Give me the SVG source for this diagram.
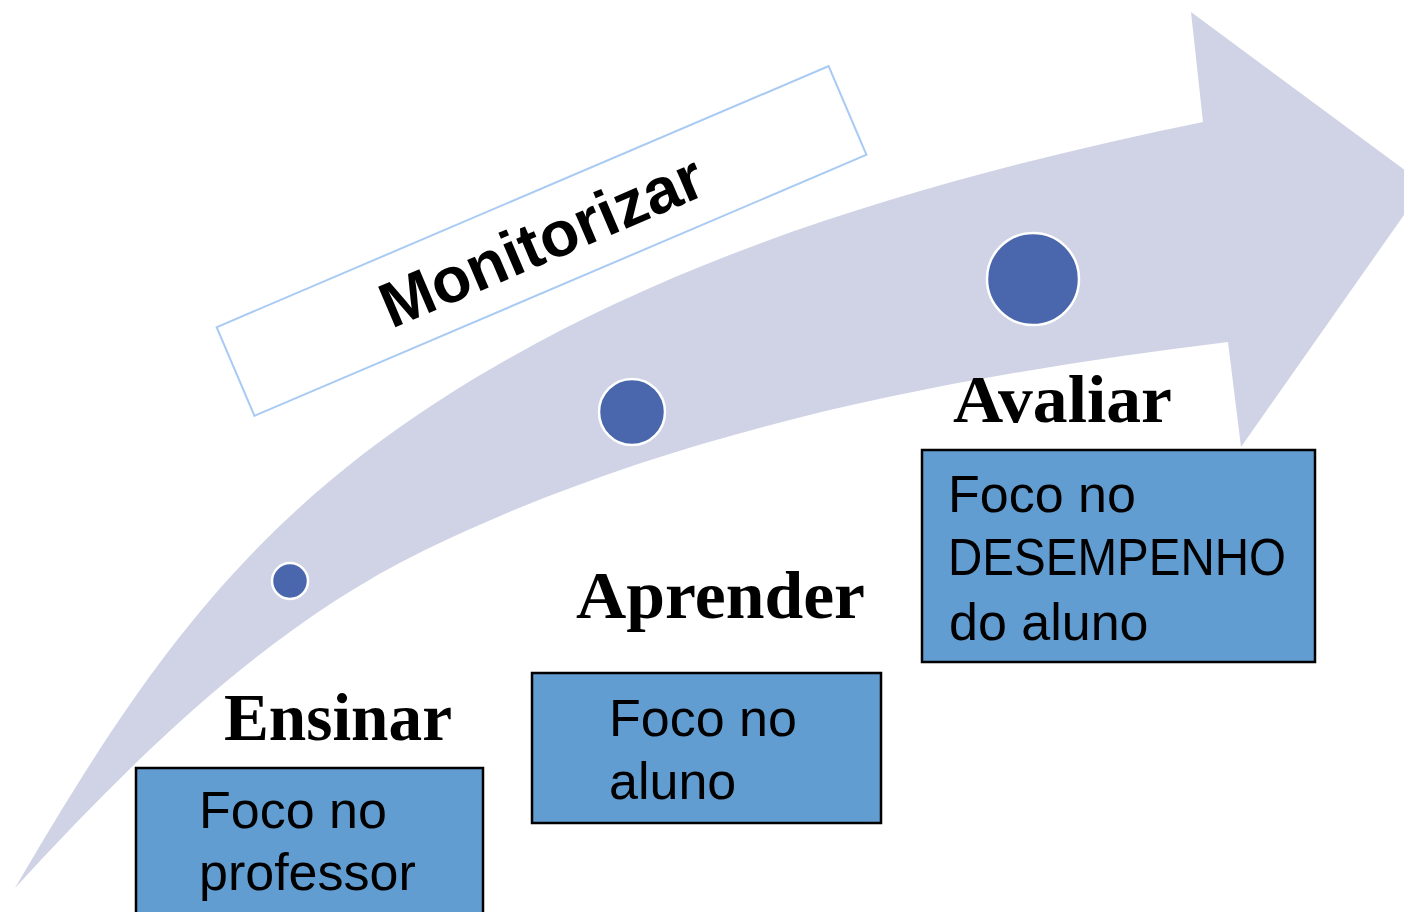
<svg xmlns="http://www.w3.org/2000/svg" width="1404" height="912" viewBox="0 0 1404 912">
<style>
.arrow{fill:#CFD3E5;stroke:none}
.dot{fill:#4A67AD;stroke:#FFFFFF;stroke-width:2.5}
.box{fill:#629DD1;stroke:#000000;stroke-width:2.5}
.lbl{font-family:"Liberation Serif","Times New Roman",serif;font-weight:bold;font-size:68px;fill:#000}
.txt{font-family:"Liberation Sans",Arial,sans-serif;font-size:52px;fill:#000}
.mon{fill:#FFFFFF;stroke:#A9CBF3;stroke-width:2}
.montxt{font-family:"Liberation Sans",Arial,sans-serif;font-weight:bold;font-size:64px;fill:#000}
</style>
<rect x="0" y="0" width="1404" height="912" fill="#FFFFFF"/>
<g id="arrow">
<path class="arrow" d="M15,888 C136,681 238.4,530 440,400 C666.8,253.7 938.7,176.5 1203,122 L1191,12 L1425,185 L1241,447 L1228,342 C954,375.7 673,429.1 425,550 C265.9,627.5 134.8,757.9 15,888 Z"/>
</g>
<g id="monitorizar" transform="translate(541.5,241) rotate(-23.1)">
<rect class="mon" x="-332.6" y="-48.2" width="665.3" height="96.4"/>
<text class="montxt" x="0" y="22" text-anchor="middle">Monitorizar</text>
</g>
<g id="dot1"><circle class="dot" cx="290" cy="581" r="18"/></g>
<g id="dot2"><circle class="dot" cx="632" cy="412" r="33"/></g>
<g id="dot3"><circle class="dot" cx="1033" cy="279" r="46"/></g>
<g id="ensinar">
<text class="lbl" x="224" y="740" textLength="228" lengthAdjust="spacingAndGlyphs">Ensinar</text>
<rect class="box" x="136" y="768" width="347" height="170"/>
<text class="txt" x="199" y="828">Foco no</text>
<text class="txt" x="199" y="890">professor</text>
</g>
<g id="aprender">
<text class="lbl" x="576" y="618" textLength="289" lengthAdjust="spacingAndGlyphs">Aprender</text>
<rect class="box" x="532" y="673" width="349" height="150"/>
<text class="txt" x="609" y="736">Foco no</text>
<text class="txt" x="609" y="799">aluno</text>
</g>
<g id="avaliar">
<text class="lbl" x="953" y="422" textLength="219" lengthAdjust="spacingAndGlyphs">Avaliar</text>
<rect class="box" x="922" y="450" width="393" height="212"/>
<text class="txt" x="948" y="512">Foco no</text>
<text class="txt" x="948" y="575" font-size="47" textLength="338" lengthAdjust="spacingAndGlyphs">DESEMPENHO</text>
<text class="txt" x="949" y="640">do aluno</text>
</g>
<g id="connectors"></g>
</svg>
